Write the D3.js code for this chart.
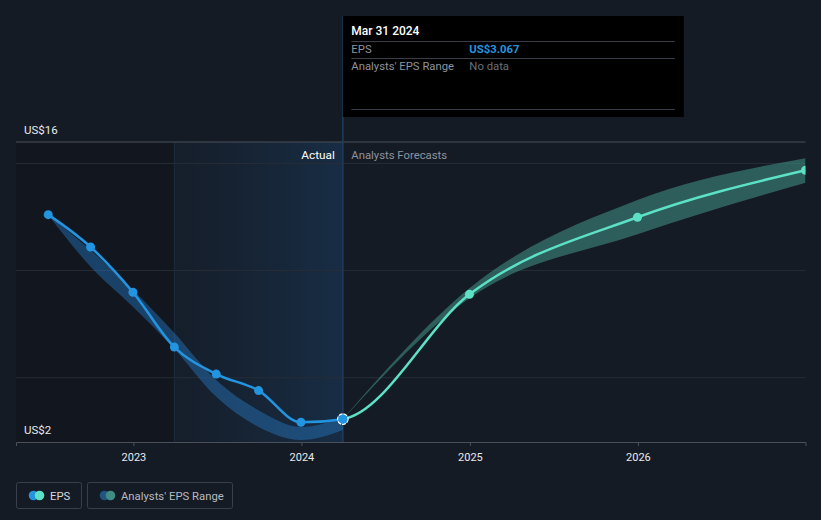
<!DOCTYPE html>
<html><head><meta charset="utf-8">
<script src="https://cdn.jsdelivr.net/npm/d3@7"></script>
<style>
html,body{margin:0;padding:0;background:#151b25;}
svg{display:block;font-family:Roboto,"Noto Sans",sans-serif;}
</style></head>
<body>
<svg id="chart" width="821" height="520"></svg>
<script>
// ---- data ----
const actualDates = ["2022-06-30","2022-09-30","2022-12-31","2023-03-31","2023-06-30","2023-09-30","2023-12-31","2024-03-31"];
const actualEps   = [12.61, 11.10, 8.99, 6.43, 5.17, 4.40, 2.92, 3.067];
const pastRangeLow  = [12.61, 10.18, 8.31, 6.34, 4.11, 2.70, 2.09, 2.56];
const pastRangeHigh = [12.61, 10.96, 9.09, 7.09, 4.89, 3.48, 2.70, 3.17];
const forecastDates = ["2024-03-31","2024-12-31","2025-12-31","2026-12-31"];
const forecastEps   = [3.067, 8.89, 12.49, 14.68];
const forecastLow   = [3.067, 8.71, 11.69, 14.10];
const forecastHigh  = [3.067, 9.17, 13.29, 15.24];
const yTickValues = [5, 10, 15];
const yLabels = [{v:16, t:"US$16"}, {v:2, t:"US$2"}];
const xTickYears = ["2023","2024","2025","2026"];
const domainStart = "2022-04-21", domainEnd = "2026-12-31";
const pastYearStart = "2023-03-31", todayDate = "2024-03-31";
const tooltip = {date:"Mar 31 2024", eps:"US$3.067", range:"No data"};

// ---- setup ----
const parse = d3.utcParse("%Y-%m-%d");
const svg = d3.select("#chart");
const L = 16, R = 805.5, T = 142, B = 442;
const x = d3.scaleUtc().domain([parse(domainStart), parse(domainEnd)]).range([L, R]);
const y = d3.scaleLinear().domain([2, 16]).range([B, T]);

const actual = actualDates.map((d,i)=>({date:parse(d), v:actualEps[i], lo:pastRangeLow[i], hi:pastRangeHigh[i]}));
const forecast = forecastDates.map((d,i)=>({date:parse(d), v:forecastEps[i], lo:forecastLow[i], hi:forecastHigh[i]}));
const allEps = actual.concat(forecast.slice(1));

const defs = svg.append("defs");
defs.append("clipPath").attr("id","plotClip").append("rect")
  .attr("x", L).attr("y", 0).attr("width", R - L).attr("height", B);
const xPast = x(parse(pastYearStart)), xNow = x(parse(todayDate));
defs.append("clipPath").attr("id","leftClip").append("rect")
  .attr("x", 0).attr("y", 0).attr("width", xNow).attr("height", 520);
defs.append("clipPath").attr("id","rightClip").append("rect")
  .attr("x", xNow).attr("y", 0).attr("width", R - xNow).attr("height", 520);
const grad = defs.append("linearGradient").attr("id","pastGrad").attr("x1","0").attr("x2","1").attr("y1","0").attr("y2","0");
grad.append("stop").attr("offset","0").attr("stop-color","#1a3a5c").attr("stop-opacity",0.1);
grad.append("stop").attr("offset","1").attr("stop-color","#1b4670").attr("stop-opacity",0.42);

// background regions
svg.append("rect").attr("x", L).attr("y", T).attr("width", xPast - L).attr("height", B - T)
  .attr("fill", "#10141b").attr("opacity", 0.55);
svg.append("rect").attr("x", xPast).attr("y", T).attr("width", xNow - xPast).attr("height", B - T)
  .attr("fill", "url(#pastGrad)");
svg.append("line").attr("x1", xPast).attr("x2", xPast).attr("y1", T).attr("y2", B)
  .attr("stroke", "#1c2d40").attr("stroke-width", 1);

// grid
svg.append("g").selectAll("line").data(yTickValues).join("line")
  .attr("x1", L).attr("x2", R).attr("y1", d=>y(d)).attr("y2", d=>y(d))
  .attr("stroke", "#272d37").attr("stroke-width", 1);
svg.append("line").attr("x1", L).attr("x2", R).attr("y1", y(16)).attr("y2", y(16))
  .attr("stroke", "#4a505a").attr("stroke-width", 1);

// y labels
svg.append("g").selectAll("text").data(yLabels).join("text")
  .attr("x", 24).attr("y", d=>y(d.v) - 8)
  .attr("fill", "#e8eaed").attr("font-size", 11.5).text(d=>d.t);

// x axis
const xAxis = d3.axisBottom(x)
  .tickValues(xTickYears.map(s=>parse(s + "-01-01")))
  .tickFormat(d3.utcFormat("%Y")).tickSize(4).tickPadding(7);
const gx = svg.append("g").attr("transform", `translate(0,${B})`).call(xAxis);
gx.select(".domain").attr("stroke", "#4a505a");
gx.selectAll(".tick line").attr("stroke", "#4a505a");
gx.selectAll(".tick text").attr("fill", "#e8eaed").attr("font-size", 11).attr("font-family", "Roboto,sans-serif");

// "now" vertical line
svg.append("line").attr("x1", xNow).attr("x2", xNow).attr("y1", 16).attr("y2", B)
  .attr("stroke", "#1d3e5e").attr("stroke-width", 1.5);

const plot = svg.append("g").attr("clip-path", "url(#plotClip)");

// bands
const band = d3.area().x(d=>x(d.date)).y0(d=>y(d.lo)).y1(d=>y(d.hi)).curve(d3.curveMonotoneX);
plot.append("path").datum(actual).attr("d", band).attr("fill", "#2677c0").attr("opacity", 0.45);
plot.append("path").datum(forecast).attr("d", band).attr("fill", "#3f8c82").attr("opacity", 0.6);

// EPS line
const line = d3.line().x(d=>x(d.date)).y(d=>y(d.v)).curve(d3.curveMonotoneX);
plot.append("path").datum(allEps).attr("d", line).attr("clip-path","url(#leftClip)")
  .attr("fill","none").attr("stroke","#2394df").attr("stroke-width",2.5);
plot.append("path").datum(allEps).attr("d", line).attr("clip-path","url(#rightClip)")
  .attr("fill","none").attr("stroke","#5ce0c6").attr("stroke-width",2.5);

// dots
plot.append("g").selectAll("circle").data(actual.slice(0,-1)).join("circle")
  .attr("cx", d=>x(d.date)).attr("cy", d=>y(d.v)).attr("r", 4.5).attr("fill", "#2394df");
plot.append("g").selectAll("circle").data(forecast.slice(1)).join("circle")
  .attr("cx", d=>x(d.date)).attr("cy", d=>y(d.v)).attr("r", 4.5).attr("fill", "#5ce0c6");
const last = actual[actual.length-1];
plot.append("circle").attr("cx", x(last.date)).attr("cy", y(last.v)).attr("r", 5.3)
  .attr("fill", "#2394df").attr("stroke", "#ffffff").attr("stroke-width", 1.1).attr("stroke-dasharray", "4,1");

// section labels
svg.append("text").attr("x", xNow - 8).attr("y", y(16) + 16.5).attr("text-anchor","end")
  .attr("fill","#ffffff").attr("font-size",11.8).text("Actual");
svg.append("text").attr("x", xNow + 8.5).attr("y", y(16) + 16.5)
  .attr("fill","#8d939c").attr("font-size",11.3).text("Analysts Forecasts");

// tooltip
const tt = svg.append("g");
tt.append("rect").attr("x", xNow).attr("y", 16).attr("width", 341).attr("height", 101).attr("fill", "#000000");
const tx = xNow + 8.5, tx2 = xNow + 126.5, tr = xNow + 332;
[41.5, 58.5, 109.5].forEach(yy=>{
  tt.append("line").attr("x1", tx).attr("x2", tr).attr("y1", yy).attr("y2", yy).attr("stroke","#3a3f47").attr("stroke-width",1);
});
tt.append("text").attr("x", tx).attr("y", 35).attr("fill","#ffffff").attr("font-size",12).attr("font-weight",500).text(tooltip.date);
tt.append("text").attr("x", tx).attr("y", 53).attr("fill","#8d939c").attr("font-size",11.3).text("EPS");
tt.append("text").attr("x", tx2).attr("y", 53).attr("fill","#2394df").attr("font-size",11.3).attr("font-weight",700).text(tooltip.eps);
tt.append("text").attr("x", tx).attr("y", 70).attr("fill","#8d939c").attr("font-size",11.3).text("Analysts' EPS Range");
tt.append("text").attr("x", tx2).attr("y", 70).attr("fill","#6a7079").attr("font-size",11.3).text(tooltip.range);

// legend
const legendItems = [
  {label:"EPS", c1:"#2394df", c2:"#5ce0c6", x:16.5, w:65, color:"#d5d8dc"},
  {label:"Analysts' EPS Range", c1:"#1f5580", c2:"#3f8c82", x:87.5, w:145, color:"#b5b9bf"}
];
const lg = svg.append("g").selectAll("g").data(legendItems).join("g")
  .attr("transform", d=>`translate(${d.x},482.5)`);
lg.append("rect").attr("width", d=>d.w).attr("height", 26).attr("rx", 2)
  .attr("fill","none").attr("stroke","#3a404a");
lg.append("circle").attr("cx", 17).attr("cy", 13).attr("r", 4.8).attr("fill", d=>d.c1);
lg.append("circle").attr("cx", 23).attr("cy", 13).attr("r", 4.8).attr("fill", d=>d.c2);
lg.append("text").attr("x", 33.5).attr("y", 17.5).attr("fill", d=>d.color).attr("font-size", 11.3).text(d=>d.label);
</script>
</body></html>
